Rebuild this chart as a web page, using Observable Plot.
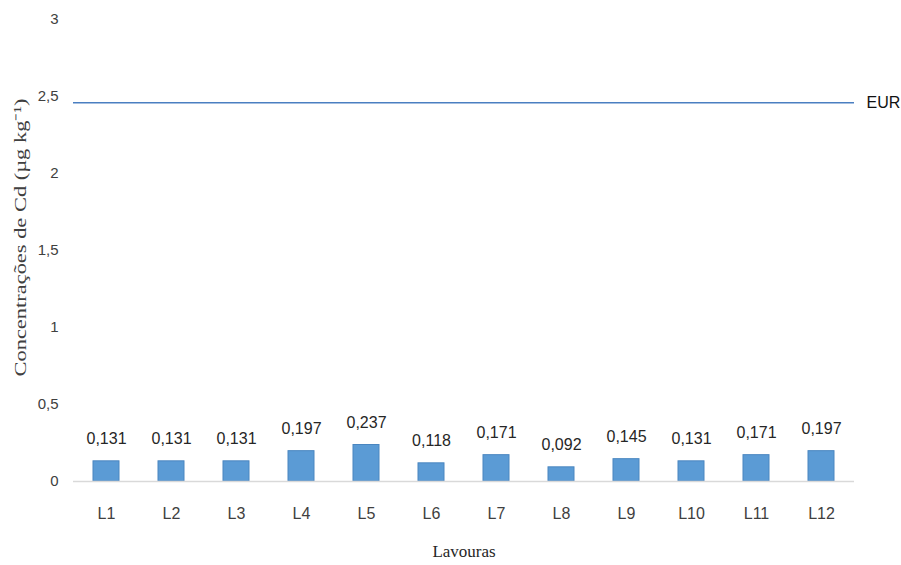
<!DOCTYPE html>
<html>
<head>
<meta charset="utf-8">
<script src="https://cdn.jsdelivr.net/npm/d3@7"></script>
<script src="https://cdn.jsdelivr.net/npm/@observablehq/plot@0.6"></script>
<style>
  html, body { margin: 0; padding: 0; background: #fff; }
</style>
</head>
<body>
<div id="chart"></div>
<script>
const categories = ["L1","L2","L3","L4","L5","L6","L7","L8","L9","L10","L11","L12"];
const values = [0.131,0.131,0.131,0.197,0.237,0.118,0.171,0.092,0.145,0.131,0.171,0.197];
const eurValue = 2.46;
const eurLabel = "EUR";
const yTicks = [0, 0.5, 1, 1.5, 2, 2.5, 3];
const yLabel = "Concentrações de Cd (µg kg⁻¹)";
const xLabel = "Lavouras";

const data = categories.map((c, i) => ({cat: c, value: values[i]}));
const fmt = v => String(v).replace(".", ",");
const fmt3 = v => v.toFixed(3).replace(".", ",");

const chart = Plot.plot({
  width: 901,
  height: 565,
  marginLeft: 73,
  marginRight: 47,
  marginTop: 19,
  marginBottom: 84,
  style: {fontSize: "15px", color: "#404040", fontFamily: "Liberation Sans, sans-serif"},
  x: {domain: categories, padding: 0.6, paddingOuter: 0.3, align: 0.5},
  y: {domain: [0, 3]},
  marks: [
    Plot.axisY({ticks: yTicks, tickSize: 0, tickPadding: 15, tickFormat: fmt, label: null, fontSize: 15}),
    Plot.axisX({tickSize: 0, tickPadding: 26, label: null, fontSize: 16}),
    Plot.barY(data, {x: "cat", y: "value", fill: "#5b9bd5", stroke: "#4a86c0", strokeWidth: 1}),
    Plot.ruleY([0], {stroke: "#d9d9d9", strokeWidth: 1.5}),
    Plot.ruleY([eurValue], {stroke: "#4a7fc1", strokeWidth: 1.5}),
    Plot.text(data, {x: "cat", y: "value", text: d => fmt3(d.value), dy: -22, fontSize: 16, fill: "#262626"}),
    Plot.text([eurValue], {y: d => d, frameAnchor: "right", dx: 12, textAnchor: "start", text: () => eurLabel, fontSize: 16, fill: "#111"}),
    Plot.text([yLabel], {frameAnchor: "left", dx: -53, dy: -13, rotate: -90, textAnchor: "middle", text: d => d, fontSize: 17, fill: "#404040", fontFamily: "Liberation Serif, serif", className: "ylab"}),
    Plot.text([xLabel], {frameAnchor: "bottom", dy: 75, text: d => d, fontSize: 17, fill: "#262626", fontFamily: "Liberation Serif, serif"})
  ]
});
// stretch the y label along its length to match the reference's proportions
d3.select(chart).selectAll("g.ylab text, .ylab text")
  .attr("textLength", 278)
  .attr("lengthAdjust", "spacingAndGlyphs");
document.getElementById("chart").appendChild(chart);
</script>
</body>
</html>
